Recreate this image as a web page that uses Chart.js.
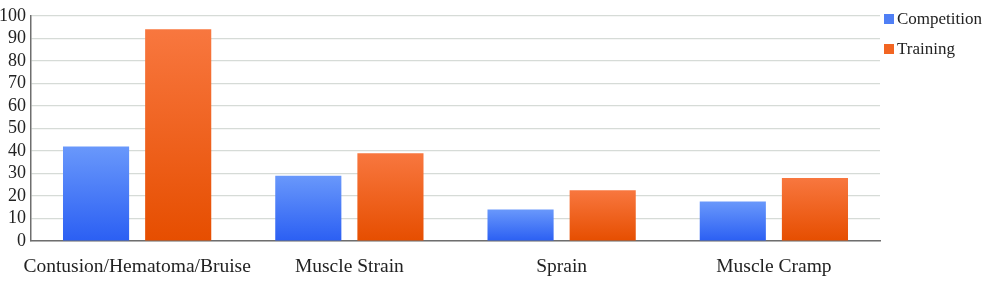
<!DOCTYPE html>
<html>
<head>
<meta charset="utf-8">
<script src="https://cdn.jsdelivr.net/npm/chart.js@4.4.0/dist/chart.umd.min.js"></script>
<style>
  html, body { margin: 0; padding: 0; background: #fff; }
  #wrap { position: relative; width: 1000px; height: 285px; }
  #legend { position: absolute; left: 884px; top: 8px; font-family: 'Liberation Serif'; font-size: 17px; color: #222; }
  #legend div { height: 30px; line-height: 22px; white-space: nowrap; }
  #legend span.box { display: inline-block; width: 10px; height: 10px; margin-right: 3px; vertical-align: 0px; }
</style>
</head>
<body>
<div id="wrap"><canvas id="chart"></canvas><div id="legend"></div></div>
<script>
// data
const categories = ['Contusion/Hematoma/Bruise', 'Muscle Strain', 'Sprain', 'Muscle Cramp'];
const competition = [42, 29, 14, 17.5];
const training = [94, 39, 22.5, 28];
const yTicks = [0, 10, 20, 30, 40, 50, 60, 70, 80, 90, 100];
const seriesNames = ['Competition', 'Training'];
const legendColors = ['#4f7ff5', '#f26522'];

const FONT = 'Liberation Serif';

// vertical gradient per bar, lighter at the top
function barFill(light, dark) {
    return function(ctx) {
        let chart = ctx.chart;
        if (!chart.chartArea || ctx.raw === undefined) return dark;
        let y = chart.scales.y;
        let top = y.getPixelForValue(ctx.raw);
        let bottom = y.getPixelForValue(0);
        if (!isFinite(top) || top === bottom) return dark;
        let g = chart.ctx.createLinearGradient(0, top, 0, bottom);
        g.addColorStop(0, light);
        g.addColorStop(1, dark);
        return g;
    };
}

let datas = {
    labels: categories,
    datasets: [
        {
            label: seriesNames[0],
            data: competition,
            backgroundColor: barFill('#6998fb', '#2b5ff3'),
            borderWidth: 0,
            categoryPercentage: 0.774,
            barPercentage: 0.805,
        },
        {
            label: seriesNames[1],
            data: training,
            backgroundColor: barFill('#f8773f', '#e64e00'),
            borderWidth: 0,
            categoryPercentage: 0.774,
            barPercentage: 0.805,
        },
    ],
};

let config = {
    type: 'bar',
    data: datas,
    options: {
        responsive: true,
        maintainAspectRatio: false,
        animation: false,
        layout: { padding: { top: 11, left: 0, right: 120, bottom: 0 } },
        plugins: {
            tooltip: { enabled: false },
            legend: { display: false },
        },
        scales: {
            x: {
                afterFit: function(axis) { axis.height = 44; },
                grid: { display: false, drawTicks: false },
                border: { display: true, color: '#6e6e6e', width: 1.5 },
                ticks: {
                    color: '#222',
                    padding: 14,
                    font: { family: FONT, size: 19.5 },
                    maxRotation: 0,
                    autoSkip: false,
                },
            },
            y: {
                min: 0,
                max: 100,
                afterFit: function(axis) { axis.width = 31; },
                afterBuildTicks: function(axis) {
                    axis.ticks = yTicks.map(v => ({ value: v }));
                },
                grid: { color: '#d6dbd7', lineWidth: 1.2, drawTicks: false },
                border: { display: true, color: '#6e6e6e', width: 1.5 },
                ticks: {
                    color: '#222',
                    padding: 5,
                    autoSkip: false,
                    font: { family: FONT, size: 18 },
                },
            },
        },
    },
};

let canvas = document.getElementById('chart');
let chart = new Chart(canvas, config);

// legend
let legend = document.getElementById('legend');
seriesNames.forEach((name, i) => {
    let row = document.createElement('div');
    row.innerHTML = '<span class="box" style="background:' + legendColors[i] + '"></span>' + name;
    legend.appendChild(row);
});
</script>
</body>
</html>
